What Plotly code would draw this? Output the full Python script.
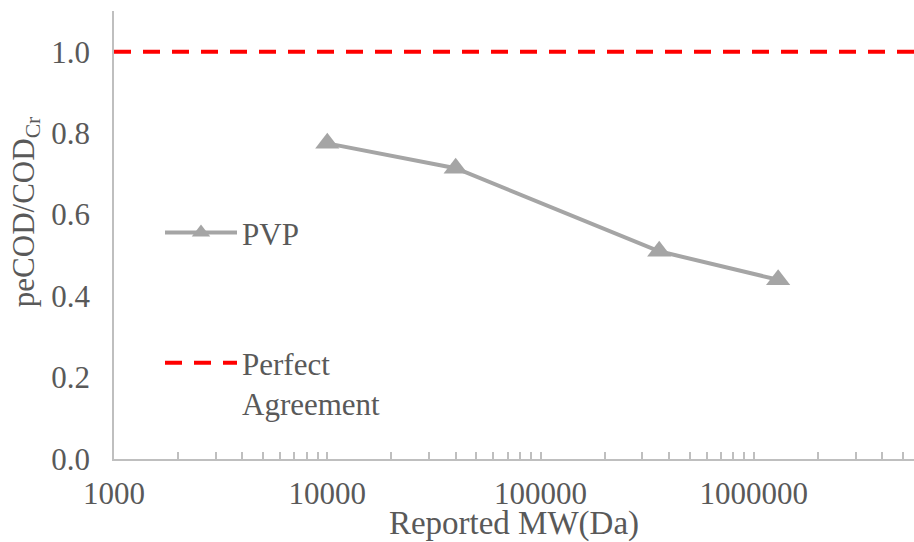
import plotly.graph_objects as go

# PVP series: reported molecular weight (Da) vs peCOD/CODCr ratio
mw_da = [10000, 40000, 360000, 1300000]
ratio = [0.775, 0.714, 0.51, 0.44]

# Perfect-agreement reference level
perfect_level = 1.0

# Axis extents
x_min, x_max = 1000, 5640000
y_min, y_max = 0.0, 1.1
y_ticks = [0.0, 0.2, 0.4, 0.6, 0.8, 1.0]
x_major = [1000, 10000, 100000, 1000000]
x_minor = [m * d for d in (1000, 10000, 100000, 1000000) for m in range(2, 10)]

FONT = "Liberation Serif"
TXT = "#595959"
AXIS = "#BFBFBF"

fig = go.Figure()

fig.add_trace(go.Scatter(
    x=mw_da, y=ratio, name="PVP", mode="lines+markers",
    line=dict(color="#A5A5A5", width=4),
    marker=dict(symbol="triangle-up", size=21, color="#A5A5A5"),
    legendgroup="a",
))

fig.add_trace(go.Scatter(
    x=[x_min, x_max], y=[perfect_level, perfect_level],
    name="Perfect<br>Agreement", mode="lines",
    line=dict(color="#FF0000", width=4, dash="17px,12px"),
    legendgroup="b",
))

fig.update_layout(
    width=914, height=542,
    margin=dict(l=114, r=0, t=11, b=83),
    paper_bgcolor="white", plot_bgcolor="white",
    font=dict(family=FONT, size=31, color=TXT),
    showlegend=True,
    legend=dict(
        x=0.0575, y=0.565, xanchor="left", yanchor="top",
        bgcolor="rgba(0,0,0,0)", traceorder="grouped",
        tracegroupgap=87, itemwidth=72, valign="top",
        font=dict(family=FONT, size=31, color=TXT),
    ),
    xaxis=dict(
        type="log", range=[3, 6.751],
        showgrid=False, zeroline=False,
        showline=True, linecolor=AXIS, linewidth=1.5,
        tickvals=x_major, ticktext=[str(v) for v in x_major],
        ticks="inside", ticklen=7, tickcolor=AXIS, tickwidth=1.5,
        minor=dict(tickvals=x_minor, ticks="inside", ticklen=7,
                   tickcolor=AXIS, tickwidth=1.5, showgrid=False),
        ticklabelstandoff=6,
        tickfont=dict(family=FONT, size=31, color=TXT),
        title=dict(text="Reported MW(Da)", standoff=2,
                   font=dict(family=FONT, size=33, color=TXT)),
    ),
    yaxis=dict(
        range=[y_min, y_max],
        showgrid=False, zeroline=False,
        showline=True, linecolor=AXIS, linewidth=1.5,
        tickvals=y_ticks, ticktext=[f"{v:.1f}" for v in y_ticks],
        ticks="", ticklabelstandoff=16,
        tickfont=dict(family=FONT, size=31, color=TXT),
    ),
    annotations=[dict(
        text="peCOD/COD<sub>Cr</sub>", textangle=-90,
        xref="paper", yref="paper", x=-0.11, y=0.551,
        xanchor="center", yanchor="middle", showarrow=False,
        font=dict(family=FONT, size=31, color=TXT),
    )],
)

fig.write_html("out.html")
